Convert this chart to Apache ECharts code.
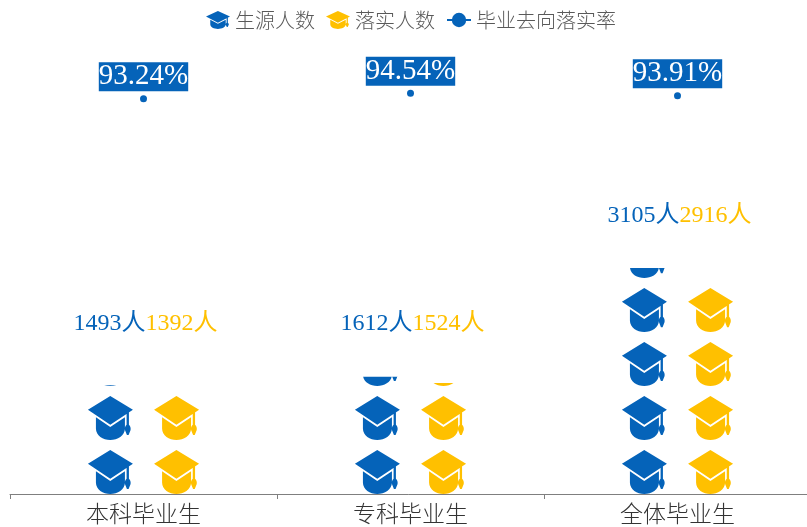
<!DOCTYPE html>
<html>
<head>
<meta charset="utf-8">
<style>html,body{margin:0;padding:0;background:#fff}#container{width:807px;height:527px}</style>
<script src="https://cdn.jsdelivr.net/npm/echarts@6/dist/echarts.min.js"></script>
</head>
<body>
<div id="container"></div>
<script>
var categories = ['本科毕业生', '专科毕业生', '全体毕业生'];
var studentCounts = [1493, 1612, 3105];
var placedCounts = [1392, 1524, 2916];
var placementRates = [93.24, 94.54, 93.91];

var BLUE = '#0563B9';
var YELLOW = '#FFC000';
var CJK_FONT = '"Noto Sans CJK SC", sans-serif';
var LABEL_FONT = '"Liberation Serif", "Noto Sans CJK SC", serif';

// 学士帽图标
var HAT = 'path://M67 0 L135 42 L67 88 L0 42 Z ' +
    'M24 65 L67 95 L111 65 L111 100 C111 122 89 135 67 135 C45 135 24 122 24 100 Z ' +
    'M116 50 L123 46 L123 88 C127 92 129 97 128 104 L122 120 L117 120 L111 104 C110 97 112 92 116 88 Z';

function pictorial(name, values, color, shift) {
    return {
        name: name,
        type: 'pictorialBar',
        yAxisIndex: 0,
        barWidth: 45,
        barGap: '47%',
        symbol: HAT,
        symbolSize: [45, 44],
        symbolRepeat: true,
        symbolMargin: 5,
        symbolClip: true,
        symbolBoundingData: 5796,
        symbolPosition: 'start',
        itemStyle: { color: color },
        label: {
            show: true,
            position: 'top',
            distance: 6,
            offset: [shift, 0],
            formatter: '{c}人',
            color: color,
            fontSize: 24,
            fontFamily: LABEL_FONT
        },
        data: values
    };
}

var chart = echarts.init(document.getElementById('container'));
chart.setOption({
    animation: false,
    legend: {
        left: 201,
        top: 5,
        itemWidth: 24,
        itemHeight: 18,
        itemGap: 11,
        symbolKeepAspect: false,
        textStyle: { color: '#595959', fontSize: 20, fontFamily: CJK_FONT, fontWeight: 300 },
        data: [
            { name: '生源人数', icon: HAT },
            { name: '落实人数', icon: HAT },
            {
                name: '毕业去向落实率',
                itemStyle: { color: BLUE },
                lineStyle: { color: BLUE, width: 2, opacity: 1 }
            }
        ]
    },
    grid: { left: 10, right: -4, top: 70, bottom: 33, outerBoundsMode: 'none' },
    xAxis: {
        type: 'category',
        data: categories,
        axisLine: { lineStyle: { color: '#7f7f7f', width: 1 } },
        axisTick: { show: true, length: 5, lineStyle: { color: '#7f7f7f' } },
        axisLabel: { color: '#333', fontSize: 23, margin: 8, fontFamily: CJK_FONT, fontWeight: 300 }
    },
    yAxis: [
        { type: 'value', min: 0, max: 5824, show: false },
        { type: 'value', min: 0, max: 100, show: false }
    ],
    series: [
        pictorial('生源人数', studentCounts, BLUE, -1),
        pictorial('落实人数', placedCounts, YELLOW, 5),
        {
            name: '毕业去向落实率',
            type: 'line',
            yAxisIndex: 1,
            data: placementRates,
            symbol: 'circle',
            symbolSize: 7,
            lineStyle: { width: 0 },
            itemStyle: { color: BLUE },
            label: {
                show: true,
                position: 'top',
                distance: 4,
                formatter: '{c}%',
                color: '#fff',
                backgroundColor: BLUE,
                fontSize: 29,
                lineHeight: 29,
                fontFamily: LABEL_FONT
            }
        }
    ]
});
</script>
</body>
</html>
